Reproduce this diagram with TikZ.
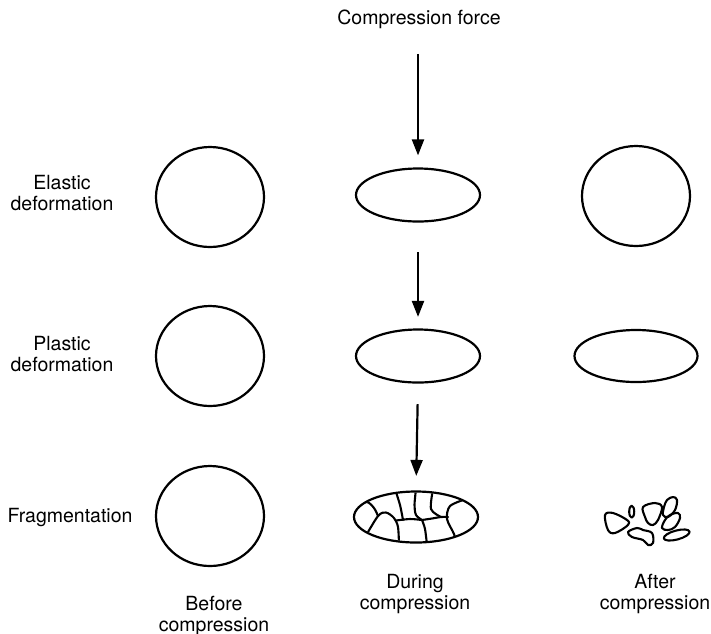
\documentclass[tikz,border=0pt]{standalone}
\usepackage{fontspec}
\setmainfont{TeX Gyre Heros}
\usetikzlibrary{arrows.meta,shapes.geometric}

\begin{document}
\begin{tikzpicture}[x=1pt,y=-1pt,
    shp/.style={ellipse,draw,line width=2.2pt,inner sep=0pt},
    ball/.style={shp,minimum width=108pt,minimum height=100pt},
    flat/.style={shp,minimum width=124pt,minimum height=53pt},
    lbl/.style={align=center,font=\fontsize{19.5}{21.5}\selectfont},
    arr/.style={line width=2.2pt,-{Triangle[length=16pt,width=12pt]}},
    crack/.style={line width=2.1pt,line cap=round,line join=round},
    piece/.style={line width=2.1pt,line join=round}]
  \useasboundingbox (0,0) rectangle (711,633);

  % row titles
  \node[lbl] (elastic) at (62,193) {Elastic\\deformation};
  \node[lbl] (plastic) at (62,354) {Plastic\\deformation};
  \node[lbl] (fragm) at (70,518) {Fragmentation};
  \node[lbl] (force) at (419,19) {Compression force};

  % column titles
  \node[lbl] (before) at (214,616) {Before\\compression};
  \node[lbl] (during) at (415,594) {During\\compression};
  \node[lbl] (after) at (655,594) {After\\compression};

  % elastic
  \node[ball] (b1) at (210,197) {};
  \node[flat] (e1) at (418,195) {};
  \node[ball] (a1) at (636,196) {};

  % plastic
  \node[ball] (b2) at (210,356) {};
  \node[flat] (e2) at (418,356) {};
  \node[shp,minimum width=123pt,minimum height=52pt] (a2) at (636,356) {};

  % fragmentation
  \node[ball] (b3) at (210,516) {};
  \node[flat,minimum height=51pt] (e3) at (416,517) {};
  \coordinate (rest) at (645,520);

  \draw[arr,shorten <=22pt,shorten >=12pt] (force.south -| e1.north) -- (e1.north);
  \draw[arr,shorten <=29.5pt,shorten >=11.5pt] (e1.south) -- (e2.north);
  \draw[arr,shorten <=20.5pt,shorten >=14.5pt] (e2.south) -- (e3.north);

  % cracks inside the particle
  \begin{scope}[shift={(e3.center)}]
    \clip (0,0) ellipse [x radius=61, y radius=24.5];
    \draw[crack] plot[smooth] coordinates {(-64,-5) (-50,-15) (-42,-9) (-38,-1)};
    \draw[crack] plot[smooth] coordinates {(-52,22) (-38,-1) (-30,-4.5) (-22,1) (-18,10) (-17,28)};
    \draw[crack] plot[smooth] coordinates {(-21,-28) (-16,-12) (-13,3)};
    \draw[crack] plot[smooth] coordinates {(-20,3.5) (-6,2) (6,3)};
    \draw[crack] plot[smooth] coordinates {(0,-28) (-1.5,-12) (0,-2) (6,3)};
    \draw[crack] plot[smooth] coordinates {(6,3) (9,12) (11,28)};
    \draw[crack] plot[smooth] coordinates {(17,-28) (15,-8) (25,0)};
    \draw[crack] plot[smooth] coordinates {(6,3) (16,1.5) (25,0) (32,0)};
    \draw[crack] plot[smooth] coordinates {(50,-18) (34,-11) (31,2) (38,17) (41,28)};
  \end{scope}

  % fragments after compression
  \begin{scope}[shift={(rest)}]
    \draw[piece] plot[smooth cycle,tension=0.6] coordinates {(-40,-5) (-32,-7) (-18,0) (-17,5) (-30,13) (-37,10)};
    \draw[piece] (-13.3,-8.3) ellipse [x radius=2.5, y radius=6];
    \draw[piece] plot[smooth cycle,tension=0.6] coordinates {(-17,12) (-8,8) (-2,10) (7,13) (8,23) (3,25) (-2,20) (-13,17)};
    \draw[piece] plot[smooth cycle,tension=0.6] coordinates {(-2,-13) (10,-17) (17,-13) (13,0) (8,5) (3,3) (0,-3)};
    \draw[piece] plot[smooth cycle,tension=0.6] coordinates {(22,-20) (28,-23) (32,-20) (30,-10) (23,-3) (18,-5) (19,-13)};
    \draw[piece] plot[smooth cycle,tension=0.6] coordinates {(25,-5) (33,-7) (35,-2) (30,7) (23,10) (17,8) (20,0)};
    \draw[piece,rotate around={15:(31.7,15)}] (31.7,15) ellipse [x radius=13.3, y radius=4.5];
  \end{scope}
\end{tikzpicture}
\end{document}
